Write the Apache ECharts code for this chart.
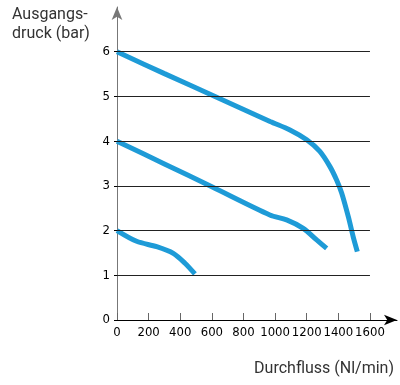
<!DOCTYPE html>
<html>
<head>
<meta charset="utf-8">
<script src="https://cdn.jsdelivr.net/npm/echarts@6/dist/echarts.min.js"></script>
<style>html,body{margin:0;padding:0;background:#fff}#c{width:400px;height:385px}</style>
</head>
<body>
<div id="c"></div>
<script>
var xTicks = [0, 200, 400, 600, 800, 1000, 1200, 1400, 1600];
var yTicks = [0, 1, 2, 3, 4, 5, 6];
var gridValues = [1, 2, 3, 4, 5, 6];
var curve6 = [[0,6],[300,5.51],[620,5.0],[968,4.44],[1094,4.25],[1200,4.03],[1283,3.77],[1347,3.43],[1389,3.13],[1421,2.84],[1463,2.31],[1494,1.86],[1520,1.53]];
var curve4 = [[0,4],[300,3.49],[600,2.98],[967,2.35],[1073,2.24],[1178,2.05],[1263,1.79],[1326,1.6]];
var curve2 = [[0,2],[124,1.76],[251,1.64],[356,1.49],[430,1.27],[493,1.03]];
var xName = 'Durchfluss (Nl/min)';
var yName = 'Ausgangs-\ndruck (bar)';

var lineColor = '#1e9bd7';
var tickFont = "'Liberation Sans Narrow', 'Arial Narrow', 'DejaVu Sans Condensed', sans-serif";
function curveSeries(d){
  return {type:'line', data:d, smooth:0.3, showSymbol:false, z:3,
    lineStyle:{color:lineColor, width:5}};
}
var chart = echarts.init(document.getElementById('c'), null, {renderer:'canvas'});
chart.setOption({
  animation:false,
  grid:{left:117, right:3, top:7, bottom:65},
  xAxis:{type:'value', min:0, max:1771,
    axisLine:{show:true, lineStyle:{color:'#000', width:1}, symbol:['none','arrow'], symbolSize:[8,13]},
    axisTick:{show:true, inside:true, length:7, lineStyle:{color:'#666'}, customValues:xTicks},
    axisLabel:{customValues:xTicks, hideOverlap:false, formatter:function(v){return String(v);},
      color:'#000', fontSize:13, fontStyle:'condensed', fontFamily:tickFont, margin:6},
    splitLine:{show:false}},
  yAxis:{type:'value', min:0, max:7,
    axisLine:{show:true, lineStyle:{color:'#777', width:1}, symbol:['none','arrow'], symbolSize:[8,13]},
    axisTick:{show:true, length:3, lineStyle:{color:'#000'}, customValues:yTicks},
    axisLabel:{customValues:yTicks, color:'#000', fontSize:13, fontStyle:'condensed', fontFamily:tickFont, margin:7},
    splitLine:{show:false}},
  graphic:[
    {type:'text', left:12, top:5, style:{text:yName, fill:'#333', font:'16px Roboto', lineHeight:19}},
    {type:'text', right:6, top:361, style:{text:xName, fill:'#333', font:'16px Roboto'}}
  ],
  series:[
    {type:'line', data:[], silent:true,
      markLine:{silent:true, symbol:'none', label:{show:false},
        lineStyle:{color:'#222', width:1, type:'solid'},
        data:gridValues.map(function(v){return [{coord:[0,v]},{coord:[1600,v]}];})}},
    curveSeries(curve6), curveSeries(curve4), curveSeries(curve2)
  ]
});
</script>
</body>
</html>
